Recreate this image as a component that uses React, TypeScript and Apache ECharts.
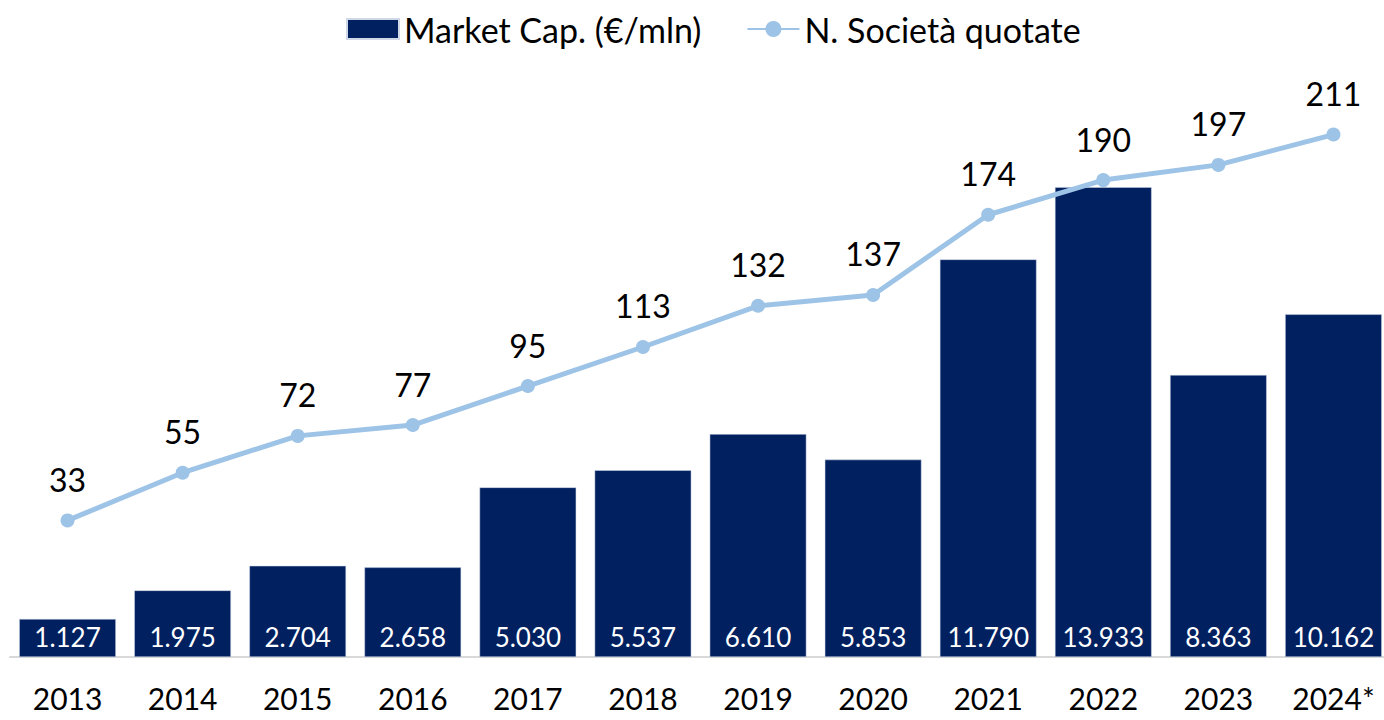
import React, { useEffect, useRef } from "react";
import * as echarts from "echarts";

const categories = ["2013", "2014", "2015", "2016", "2017", "2018", "2019", "2020", "2021", "2022", "2023", "2024*"];
const marketCap = [1127, 1975, 2704, 2658, 5030, 5537, 6610, 5853, 11790, 13933, 8363, 10162];
const societa = [33, 55, 72, 77, 95, 113, 132, 137, 174, 190, 197, 211];
const seriesNames = ["Market Cap. (€/mln)", "N. Società quotate"];

const FONT = "Lato";
const fmtThousands = (v: number) => String(v).replace(/\B(?=(\d{3})+(?!\d))/g, ".");

export default function App() {
  const ref = useRef<HTMLDivElement>(null);
  useEffect(() => {
    if (!ref.current) return;
    const chart = echarts.init(ref.current, null, { renderer: "svg" });
    chart.setOption({
      animation: false,
      backgroundColor: "#ffffff",
      textStyle: { fontFamily: FONT },
      legend: {
        top: 7,
        left: 341,
        itemGap: 45,
        itemWidth: 52,
        itemHeight: 20,
        textStyle: { fontFamily: FONT, fontSize: 34, lineHeight: 34, color: "#000000" },
        data: [
          { name: seriesNames[0], icon: "rect" },
          { name: seriesNames[1] },
        ],
      },
      grid: { left: 10, width: 1381, top: 50, bottom: 63, containLabel: false, outerBoundsMode: "none" },
      xAxis: {
        type: "category",
        data: categories,
        axisLine: { lineStyle: { color: "#d9d9d9", width: 2 } },
        axisTick: { show: false },
        axisLabel: { fontFamily: FONT, fontSize: 30, lineHeight: 24, color: "#000000", margin: 29 },
      },
      yAxis: [
        { type: "value", min: 0, max: 18000, show: false, splitLine: { show: false } },
        { type: "value", min: -30, max: 250, show: false, splitLine: { show: false } },
      ],
      series: [
        {
          name: seriesNames[0],
          type: "bar",
          data: marketCap,
          yAxisIndex: 0,
          barCategoryGap: "16%",
          itemStyle: { color: "#002060", borderColor: "#d0d8e8", borderWidth: 0.5 },
          label: {
            show: true,
            position: "insideBottom",
            distance: 7,
            color: "#ffffff",
            fontFamily: FONT,
            fontSize: 26,
            formatter: (p: any) => fmtThousands(p.value),
          },
        },
        {
          name: seriesNames[1],
          type: "line",
          data: societa,
          yAxisIndex: 1,
          symbol: "circle",
          symbolSize: 14,
          itemStyle: { color: "#9dc3e6" },
          lineStyle: { color: "#9dc3e6", width: 5 },
          label: {
            show: true,
            position: "top",
            distance: 18,
            color: "#000000",
            fontFamily: FONT,
            fontSize: 32,
          },
        },
      ],
    });
    return () => chart.dispose();
  }, []);
  return <div ref={ref} style={{ position: "fixed", left: 0, top: 0, width: 1384, height: 720 }} />;
}
